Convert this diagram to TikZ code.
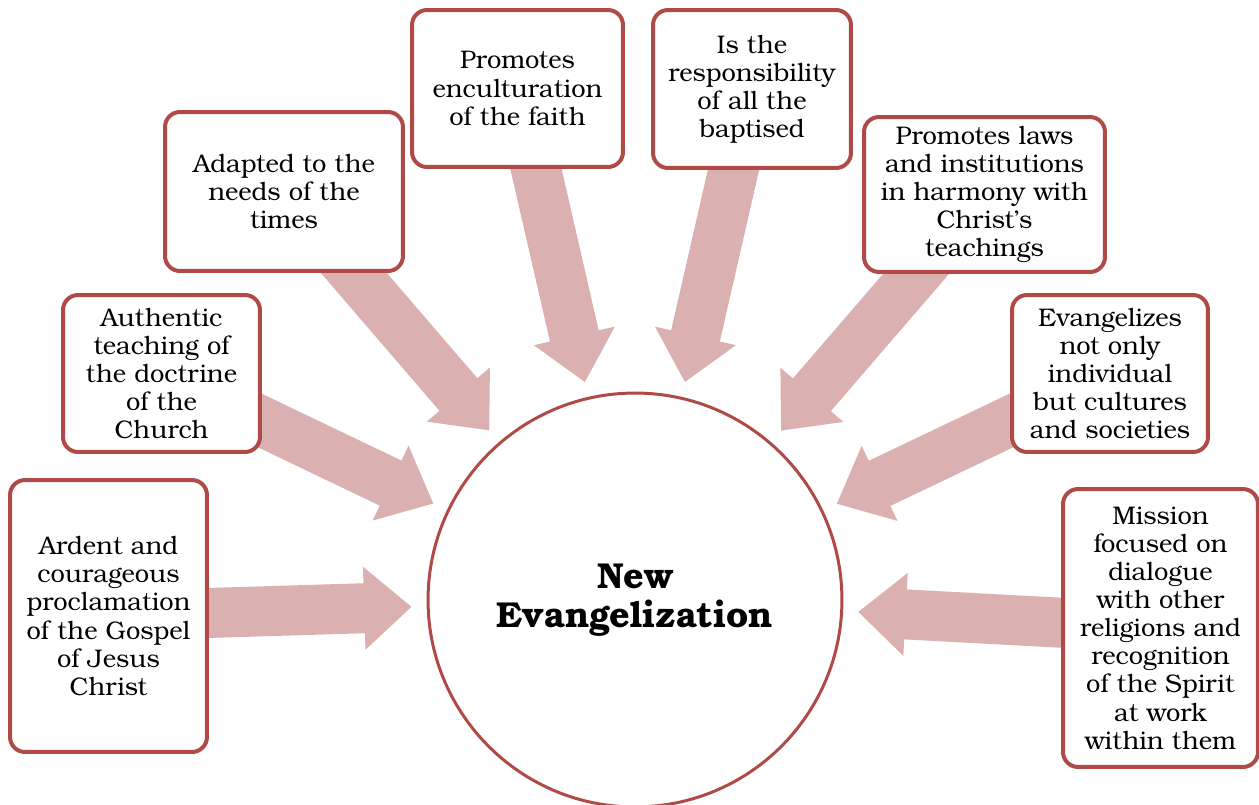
\documentclass[tikz,border=0pt]{standalone}
\usepackage{fontspec}
\setmainfont{TeX Gyre Bonum}
\usepackage{xcolor}
\usepackage{tikz}
\usetikzlibrary{arrows.meta, backgrounds}
\definecolor{boxred}{RGB}{176,74,70}
\definecolor{arrowpink}{RGB}{219,176,176}
\tikzstyle{idea} = [rectangle, rounded corners=0.3cm, minimum width=3.94cm, minimum height=3.14cm, inner sep=0pt, align=center, draw=boxred, line width=0.08cm, fill=white, font=\fontsize{14.5}{16}\selectfont]
\tikzstyle{hub} = [circle, minimum size=8.28cm, align=center, draw=boxred, line width=0.06cm, fill=white, font=\fontsize{20.5}{22}\selectfont\bfseries]
\tikzstyle{bigarrow} = [draw=arrowpink, line width=1cm, -{Triangle[width=1.6cm, length=0.95cm]}, shorten >=0.3cm, shorten <=-0.5cm]

\begin{document}
\begin{tikzpicture}[x=0.02cm, y=-0.02cm]
        \useasboundingbox (0,0) rectangle (1259,805);
        \node (hub) [hub] at (635,600) {New\\Evangelization};
        \node (box1) [idea, minimum height=5.44cm] at (108.5,616) {Ardent and\\courageous\\proclamation\\of the Gospel\\of Jesus\\Christ};
        \node (box2) [idea] at (161.5,373.5) {Authentic\\teaching of\\the doctrine\\of the\\Church};
        \node (box3) [idea, minimum width=4.76cm, minimum height=3.18cm] at (284,191.5) {Adapted to the\\needs of the\\times};
        \node (box4) [idea, minimum width=4.22cm] at (517.5,88.5) {Promotes\\enculturation\\of the faith};
        \node (box5) [idea, minimum width=3.96cm, minimum height=3.16cm] at (752,89) {Is the\\responsibility\\of all the\\baptised};
        \node (box6) [idea, minimum width=4.82cm, minimum height=3.1cm] at (984.5,194.5) {Promotes laws\\and institutions\\in harmony with\\Christ's\\teachings};
        \node (box7) [idea, minimum width=3.92cm] at (1110,373.5) {Evangelizes\\not only\\individual\\but cultures\\and societies};
        \node (box8) [idea, minimum width=3.9cm, minimum height=5.56cm] at (1160.5,628) {Mission\\focused on\\dialogue\\with other\\religions and\\recognition\\of the Spirit\\at work\\within them};

        \begin{pgfonlayer}{background}
        \draw [bigarrow] (box1) -- (hub);
        \draw [bigarrow] (box2) -- (hub);
        \draw [bigarrow] (box3) -- (hub);
        \draw [bigarrow] (box4) -- (hub);
        \draw [bigarrow] (box5) -- (hub);
        \draw [bigarrow] (box6) -- (hub);
        \draw [bigarrow] (box7) -- (hub);
        \draw [bigarrow] (box8) -- (hub);
        \end{pgfonlayer}
\end{tikzpicture}
\end{document}
